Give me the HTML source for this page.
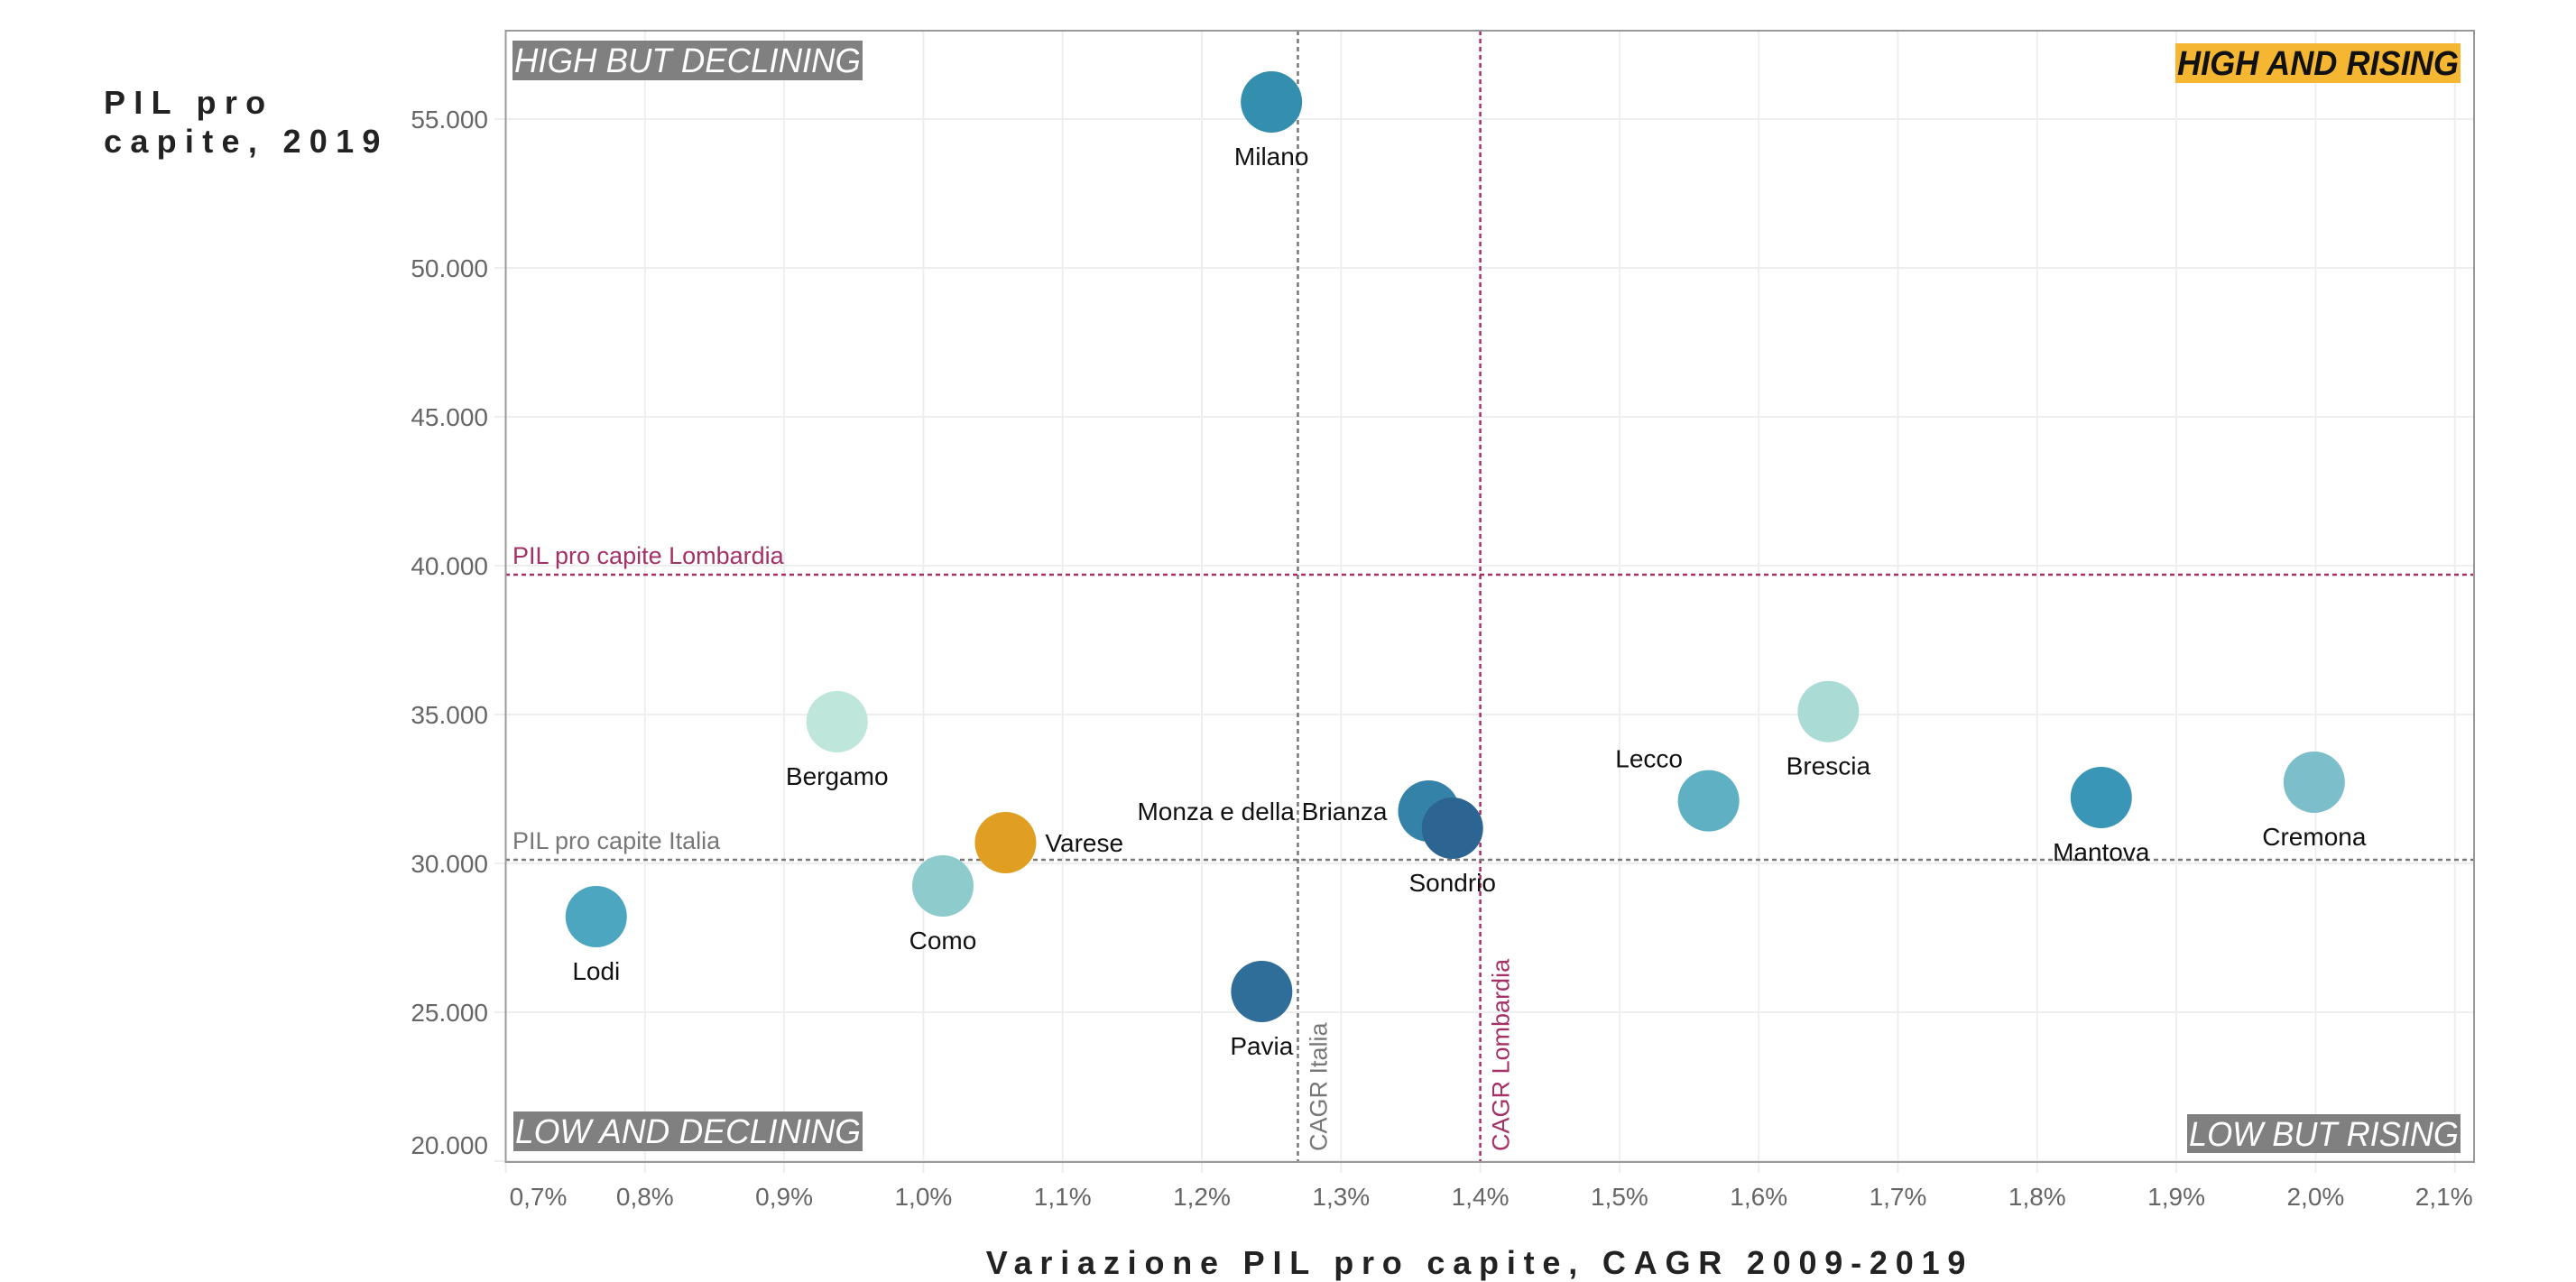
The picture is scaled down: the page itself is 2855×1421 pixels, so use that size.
<!DOCTYPE html>
<html><head><meta charset="utf-8"><style>
html,body{margin:0;padding:0;background:#fff;}
svg{display:block;font-family:"Liberation Sans",sans-serif;}
</style></head><body>
<svg id="chart" width="2855" height="1421" viewBox="0 0 2855 1421">
  <g id="grid"></g>
  <g id="refs"></g>
  <rect x="560.5" y="34" width="2181.5" height="1254" fill="none" stroke="#999" stroke-width="2"/>
  <g id="quads"></g>
  <g id="points"></g>
  <g id="xticks"></g>
  <g id="yticks"></g>
  <text x="115" y="126" font-size="36" font-weight="bold" letter-spacing="9.3" fill="#222">PIL pro<tspan x="115" dy="43">capite, 2019</tspan></text>
  <text x="1640" y="1412" font-size="36" font-weight="bold" letter-spacing="8.8" fill="#222" text-anchor="middle">Variazione PIL pro capite, CAGR 2009-2019</text>
</svg>
<script>
const names = ["Milano","Bergamo","Varese","Como","Lodi","Pavia","Monza e della Brianza","Sondrio","Lecco","Brescia","Mantova","Cremona"];
const cagr = [1.250,0.938,1.059,1.014,0.765,1.243,1.363,1.380,1.564,1.650,1.846,1.999];
const pil = [55576,34758,30697,29242,28212,25697,31758,31182,32103,35100,32212,32727];
const colors = ["#348FAE","#BEE6DA","#E09F22","#8ECBCC","#4DA6BF","#2F6E99","#3482A8","#2C6591","#5FB0C2","#AADCD5","#3A96B6","#7CBFCA"];
const labelPos = ["below","below","right","below","below","below","left","below","aboveleft","below","below","below"];
const xTicks = [0.7,0.8,0.9,1.0,1.1,1.2,1.3,1.4,1.5,1.6,1.7,1.8,1.9,2.0,2.1];
const yTicks = [20000,25000,30000,35000,40000,45000,50000,55000];
const refX = [1.269,1.400];
const refXLabels = ["CAGR Italia","CAGR Lombardia"];
const refY = [30121,39697];
const refYLabels = ["PIL pro capite Italia","PIL pro capite Lombardia"];
const refColors = ["#777777","#A33066"];

const NS="http://www.w3.org/2000/svg";
const X = v => 560.5 + (v-0.7)*1543;
const Y = v => 297 + (50000-v)*0.033;
function mk(tag, attrs, parent, text){
  const e=document.createElementNS(NS,tag);
  for(const k in attrs) e.setAttribute(k,attrs[k]);
  if(text!==undefined) e.textContent=text;
  parent.appendChild(e); return e;
}
const grid=document.getElementById('grid');
xTicks.forEach(t=>{
  const l=mk('line',{x1:X(t),x2:X(t),y1:34,y2:1300,stroke:'#eeeeee','stroke-width':2},grid);
  
  
});
yTicks.forEach(t=>{
  const l=mk('line',{x1:548,x2:2742,y1:Y(t),y2:Y(t),stroke:'#eeeeee','stroke-width':2},grid);
  
  
});
const xt=document.getElementById('xticks');
xTicks.forEach((t,i)=>{
  let x=X(t); if(i===0) x+=36; if(i===xTicks.length-1) x-=12;
  const e=mk('text',{x:x,y:1336,'font-size':28,fill:'#666','text-anchor':'middle'},xt,t.toFixed(1).replace('.',',')+'%');
  
  
});
const yt=document.getElementById('yticks');
yTicks.forEach((t,i)=>{
  let y=Y(t)+10; if(i===0) y-=18;
  const e=mk('text',{x:541,y:y,'font-size':28,fill:'#666','text-anchor':'end'},yt,t.toLocaleString('de-DE'));
  
  
});
const refs=document.getElementById('refs');
refX.forEach((v,i)=>{
  const l=mk('line',{x1:X(v),x2:X(v),y1:34,y2:1288,stroke:refColors[i],'stroke-width':2.5,'stroke-dasharray':'5,4'},refs);
  
  
  const t=mk('text',{x:0,y:0,'font-size':27,fill:refColors[i],transform:`translate(${X(v)+32},1276) rotate(-90)`},refs,refXLabels[i]);
  
  
});
refY.forEach((v,i)=>{
  const l=mk('line',{x1:560,x2:2742,y1:Y(v),y2:Y(v),stroke:refColors[i],'stroke-width':2.5,'stroke-dasharray':'5,4'},refs);
  
  
  const t=mk('text',{x:568,y:Y(v)-12,'font-size':27,fill:refColors[i]},refs,refYLabels[i]);
  
  
});
const quads=document.getElementById('quads');
const qd=[["HIGH BUT DECLINING",568,45,388,44,"#808080","#fff","normal"],
["LOW AND DECLINING",569,1232,387,44,"#808080","#fff","normal"],
["LOW BUT RISING",2424,1235,303,43,"#808080","#fff","normal"],
["HIGH AND RISING",2411,48,316,44,"#F5B731","#111","bold"]];
qd.forEach(q=>{
  const r=mk('rect',{x:q[1],y:q[2],width:q[3],height:q[4],fill:q[5]},quads);
  
  
  const t=mk('text',{x:q[1]+2,y:q[2]+35,'font-size':38,'font-style':'italic','font-weight':q[7],fill:q[6],textLength:q[3]-4,lengthAdjust:'spacingAndGlyphs'},quads,q[0]);
  
  
});
const pts=document.getElementById('points');
names.forEach((n,i)=>{
  const cx=X(cagr[i]), cy=Y(pil[i]);
  const c=mk('circle',{cx:cx,cy:cy,r:34,fill:colors[i]},pts);
  
  
  let lx=cx, ly=cy+70, anc='middle';
  if(labelPos[i]==='right'){lx=cx+44;ly=cy+10;anc='start';}
  if(labelPos[i]==='left'){lx=cx-46;ly=cy+10;anc='end';}
  if(labelPos[i]==='aboveleft'){lx=cx-66;ly=cy-37;anc='middle';}
  const t=mk('text',{x:lx,y:ly,'font-size':28,fill:'#111','text-anchor':anc},pts,n);
  
  
});
</script>
</body></html>
